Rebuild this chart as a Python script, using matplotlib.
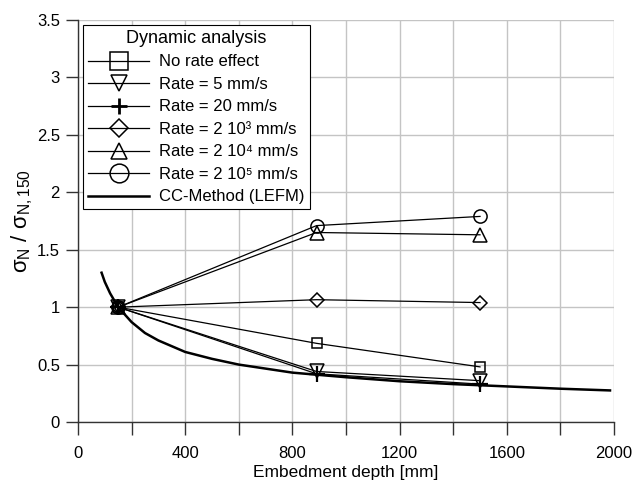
import matplotlib
matplotlib.use('Agg')
import matplotlib.pyplot as plt
from matplotlib.lines import Line2D
from matplotlib.ticker import MultipleLocator

plt.rcParams['font.family'] = ['Liberation Sans', 'DejaVu Sans']
plt.rcParams['mathtext.fontset'] = 'custom'
plt.rcParams['mathtext.rm'] = 'Liberation Sans'
plt.rcParams['mathtext.it'] = 'Liberation Sans'

# embedment depths of the dynamic analyses [mm]
depth = [150, 890, 1500]

# normalised strength per loading rate
no_rate = [1.0, 0.685, 0.48]
rate_5 = [1.0, 0.44, 0.36]
rate_20 = [1.0, 0.42, 0.33]
rate_2e3 = [1.0, 1.065, 1.04]
rate_2e4 = [1.0, 1.65, 1.63]
rate_2e5 = [1.0, 1.71, 1.79]

# CC-Method (LEFM) curve
cc_depth = [88, 100, 120, 150, 200, 250, 300, 400, 500, 600, 800, 1000,
            1200, 1400, 1600, 1800, 1985]
cc_value = [1.30, 1.22, 1.12, 1.00, 0.87, 0.775, 0.71, 0.61, 0.55, 0.50,
            0.43, 0.39, 0.355, 0.33, 0.31, 0.29, 0.275]

# label, values, marker, size in plot, size in legend
series = [
    ("No rate effect", no_rate, 's', 6.5, 13.5),
    ("Rate = 5 mm/s", rate_5, 'v', 9.5, 11),
    ("Rate = 20 mm/s", rate_20, '+', 11.5, 12),
    ("Rate = 2 10\u00b3 mm/s", rate_2e3, 'D', 7, 9),
    ("Rate = 2 10\u2074 mm/s", rate_2e4, '^', 9.5, 11),
    ("Rate = 2 10\u2075 mm/s", rate_2e5, 'o', 9.5, 13.5),
]

fig = plt.figure(figsize=(6.34, 4.8), dpi=100)
ax = fig.add_axes([0.123, 0.1208, 0.8455, 0.8375])

handles = []
for label, vals, mk, ms, lms in series:
    ax.plot(depth, vals, color='black', linewidth=0.9, marker=mk,
            markersize=ms, markerfacecolor='none', markeredgecolor='black',
            markeredgewidth=1.6 if mk == '+' else 1.1, zorder=3)
    handles.append(Line2D([], [], color='black', linewidth=0.9, marker=mk,
                          markersize=lms, markerfacecolor='none',
                          markeredgecolor='black',
                          markeredgewidth=2.0 if mk == '+' else 1.1,
                          label=label))

ax.plot(cc_depth, cc_value, color='black', linewidth=1.8, zorder=2)
handles.append(Line2D([], [], color='black', linewidth=1.8,
                      label="CC-Method (LEFM)"))

ax.set_xlim(0, 2000)
ax.set_ylim(0, 3.5)
ax.xaxis.set_major_locator(MultipleLocator(400))
ax.xaxis.set_minor_locator(MultipleLocator(200))
ax.set_yticks([0, 0.5, 1, 1.5, 2, 2.5, 3, 3.5])
ax.set_yticklabels(['0', '0.5', '1', '1.5', '2', '2.5', '3', '3.5'])

ax.grid(True, which='both', axis='x', color='#c4c4c4', linewidth=1.0)
ax.grid(True, which='major', axis='y', color='#c4c4c4', linewidth=1.0)
ax.set_axisbelow(True)

for s in ['top', 'right']:
    ax.spines[s].set_visible(False)
for s in ['left', 'bottom']:
    ax.spines[s].set_color('#333333')
    ax.spines[s].set_linewidth(1.0)
    ax.spines[s].set_zorder(4)

ax.tick_params(which='both', direction='out', length=9, width=1.0,
               color='#333333', labelsize=12)
ax.tick_params(axis='x', which='both', pad=8)
ax.tick_params(axis='y', which='both', pad=4)

ax.set_xlabel("Embedment depth [mm]", fontsize=12.5, labelpad=3)
ax.set_ylabel(r"$\mathregular{\sigma_N\ /\ \sigma_{N,150}}$", fontsize=16,
              labelpad=1)

leg = ax.legend(handles=handles, title="Dynamic analysis", loc='upper left',
                bbox_to_anchor=(0.009, 0.988), borderaxespad=0,
                fontsize=12, title_fontsize=13, fancybox=False,
                edgecolor='black', framealpha=1, handlelength=3.7,
                handletextpad=0.6, labelspacing=0.45, borderpad=0.3)
leg.get_frame().set_linewidth(0.8)
leg.set_zorder(5)

fig.savefig('out.png', dpi=100)
